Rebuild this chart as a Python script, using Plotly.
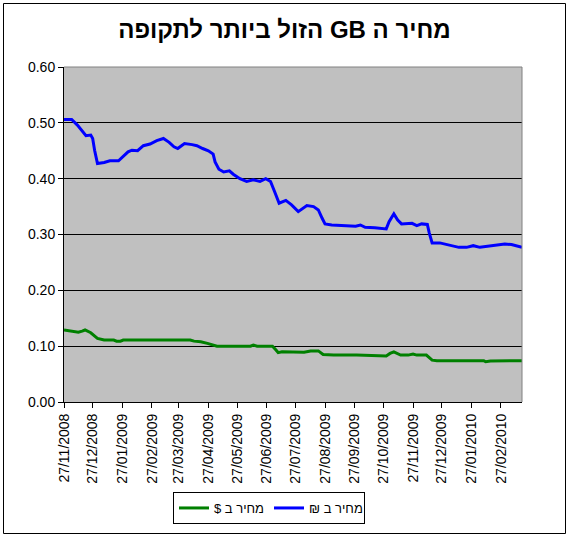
import plotly.graph_objects as go

title_text = "מחיר ה GB הזול ביותר לתקופה"
name_usd = "מחיר ב $"
name_ils = "מחיר ב ₪"

ils_dates = ["2008-11-27","2008-12-05","2008-12-11","2008-12-16","2008-12-20","2008-12-25","2008-12-27","2008-12-29",
             "2009-01-01","2009-01-08","2009-01-14","2009-01-23","2009-01-28","2009-02-02","2009-02-06","2009-02-12",
             "2009-02-18","2009-02-25","2009-03-04","2009-03-11","2009-03-17","2009-03-22","2009-03-26","2009-04-02",
             "2009-04-10","2009-04-15","2009-04-21","2009-04-27","2009-05-02","2009-05-04","2009-05-08","2009-05-13",
             "2009-05-19","2009-05-23","2009-05-30","2009-06-06","2009-06-13","2009-06-20","2009-06-26","2009-07-01",
             "2009-07-05","2009-07-10","2009-07-17","2009-07-23","2009-07-30","2009-08-08","2009-08-15","2009-08-20",
             "2009-08-24","2009-08-27","2009-09-03","2009-09-14","2009-09-22","2009-09-28","2009-10-03","2009-10-08",
             "2009-10-18","2009-10-30","2009-11-02","2009-11-07","2009-11-11","2009-11-15","2009-11-26","2009-12-01",
             "2009-12-06","2009-12-12","2009-12-14","2009-12-17","2009-12-25","2010-01-03","2010-01-14","2010-01-22",
             "2010-01-29","2010-02-05","2010-02-14","2010-02-23","2010-03-03","2010-03-10","2010-03-19","2010-03-21"]
ils_values = [0.506,0.506,0.496,0.486,0.477,0.478,0.472,0.451,
              0.427,0.429,0.432,0.432,0.440,0.448,0.451,0.450,
              0.459,0.462,0.468,0.472,0.465,0.457,0.454,0.463,
              0.461,0.459,0.454,0.450,0.444,0.430,0.417,0.412,
              0.414,0.408,0.400,0.395,0.398,0.395,0.400,0.395,
              0.378,0.356,0.361,0.353,0.341,0.352,0.350,0.344,
              0.329,0.319,0.317,0.316,0.315,0.315,0.317,0.313,
              0.312,0.310,0.323,0.337,0.326,0.319,0.320,0.316,
              0.319,0.318,0.303,0.285,0.285,0.282,0.277,0.277,
              0.280,0.277,0.279,0.282,0.283,0.282,0.279,0.277]

usd_dates = ["2008-11-27","2008-12-07","2008-12-12","2008-12-16","2008-12-19","2008-12-25","2008-12-28","2009-01-01",
             "2009-01-08","2009-01-18","2009-01-21","2009-01-25","2009-01-28","2009-04-08","2009-04-12","2009-04-19",
             "2009-04-26","2009-05-02","2009-05-06","2009-06-10","2009-06-13","2009-06-17","2009-07-03","2009-07-06",
             "2009-07-09","2009-07-13","2009-07-25","2009-07-30","2009-08-05","2009-08-12","2009-08-20","2009-08-25",
             "2009-09-05","2009-09-29","2009-10-25","2009-10-30","2009-11-03","2009-11-07","2009-11-14","2009-11-22",
             "2009-11-27","2009-12-01","2009-12-11","2009-12-17","2009-12-22","2010-02-09","2010-02-11","2010-02-16",
             "2010-03-21"]
usd_values = [0.129,0.127,0.125,0.127,0.129,0.124,0.120,0.114,
              0.111,0.111,0.109,0.109,0.111,0.111,0.109,0.108,
              0.105,0.102,0.100,0.100,0.102,0.100,0.100,0.0945,
              0.0885,0.090,0.090,0.089,0.089,0.0915,0.0915,0.085,
              0.084,0.084,0.083,0.0825,0.087,0.0897,0.084,0.084,
              0.086,0.084,0.084,0.075,0.074,0.074,0.072,0.0735,
              0.074]

tick_dates = ["2008-11-27","2008-12-27","2009-01-27","2009-02-27","2009-03-27","2009-04-27","2009-05-27","2009-06-27",
              "2009-07-27","2009-08-27","2009-09-27","2009-10-27","2009-11-27","2009-12-27","2010-01-27","2010-02-27"]
tick_labels = ["27/11/2008","27/12/2008","27/01/2009","27/02/2009","27/03/2009","27/04/2009","27/05/2009","27/06/2009",
               "27/07/2009","27/08/2009","27/09/2009","27/10/2009","27/11/2009","27/12/2009","27/01/2010","27/02/2010"]
y_ticks = [0.0, 0.1, 0.2, 0.3, 0.4, 0.5, 0.6]

RLE, PDF = "\u202b", "\u202c"
FONT = "Liberation Sans, Arial, DejaVu Sans, sans-serif"

fig = go.Figure()
fig.add_trace(go.Scatter(x=usd_dates, y=usd_values, mode="lines", name=RLE + name_usd + PDF,
                         line=dict(color="#008000", width=3)))
fig.add_trace(go.Scatter(x=ils_dates, y=ils_values, mode="lines", name=RLE + name_ils + PDF,
                         line=dict(color="#0000FF", width=3)))

W, H = 569, 537
L, R, T, B = 64, 47, 67, 135
pw, ph = W - L - R, H - T - B

def px(x):
    return (x - L) / pw

def py(y):
    return (H - B - y) / ph

fig.update_layout(
    width=W, height=H, autosize=False,
    margin=dict(l=L, r=R, t=T, b=B),
    paper_bgcolor="white", plot_bgcolor="#C0C0C0",
    font=dict(family=FONT, size=14, color="black"),
    title=dict(text="<b>" + RLE + title_text + PDF + "</b>", x=0.5, xanchor="center", y=1 - 30 / H, yanchor="middle",
               font=dict(family=FONT, size=24, color="black")),
    showlegend=True,
    legend=dict(orientation="h", x=px(269), y=py(508), xanchor="center", yanchor="middle",
                bgcolor="white", bordercolor="black", borderwidth=1,
                font=dict(family=FONT, size=13), itemwidth=30, traceorder="normal",
                entrywidthmode="pixels", entrywidth=50),
    xaxis=dict(type="date", range=["2008-11-27", "2010-03-21"], tickvals=tick_dates, ticktext=tick_labels,
               tickangle=-90, showgrid=False, showline=True, linecolor="black", linewidth=1,
               ticks="outside", ticklen=5, tickcolor="black", tickfont=dict(size=14), zeroline=False),
    yaxis=dict(range=[0, 0.6], tickvals=y_ticks, tickformat=".2f", showgrid=True, gridcolor="black",
               gridwidth=1, showline=True, linecolor="black", linewidth=1, ticks="outside", ticklen=5,
               tickcolor="black", tickfont=dict(size=14), zeroline=False),
    shapes=[
        dict(type="line", xref="paper", yref="paper", x0=0, x1=1, y0=1, y1=1, line=dict(color="#808080", width=1), layer="above"),
        dict(type="line", xref="paper", yref="paper", x0=1, x1=1, y0=0, y1=1, line=dict(color="#808080", width=1), layer="above"),
        dict(type="rect", xref="paper", yref="paper", x0=px(3.5), x1=px(565.5), y0=py(533.5), y1=py(3.5),
             line=dict(color="black", width=1), fillcolor="rgba(0,0,0,0)", layer="above"),
    ],
)

fig.write_html("out.html", config={"displayModeBar": False},
               post_script="document.body.style.margin='0';document.body.style.overflow='hidden';")
